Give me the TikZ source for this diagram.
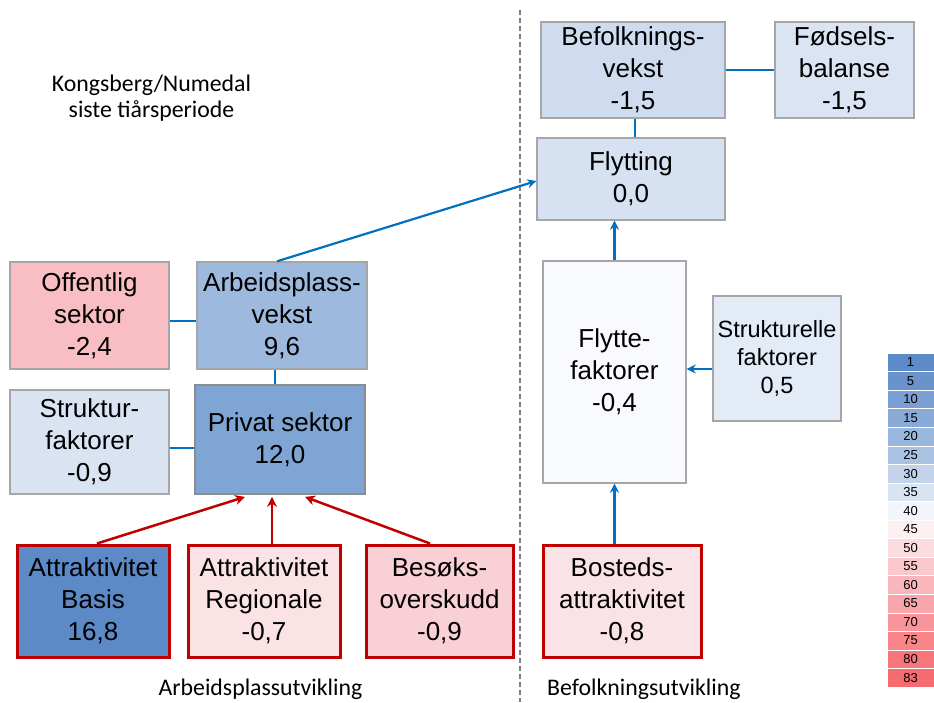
\documentclass[tikz,border=0pt]{standalone}
\usepackage{fontspec}
\setmainfont{Liberation Sans}
\newfontfamily\calfont{Carlito}
\usetikzlibrary{arrows.meta,calc}
\definecolor{bblue}{HTML}{0070C0}
\definecolor{rred}{HTML}{C00000}
\definecolor{bgray}{HTML}{A6A6A6}
\definecolor{dgray}{HTML}{8C8C8C}
\definecolor{dash}{HTML}{7F7F7F}
\definecolor{cbef}{HTML}{CFDCEF}
\definecolor{cfod}{HTML}{DBE4F2}
\definecolor{cfly}{HTML}{D6E1F1}
\definecolor{cflyf}{HTML}{F9FAFD}
\definecolor{cstruk}{HTML}{E3EBF6}
\definecolor{cbos}{HTML}{FAE3E6}
\definecolor{coff}{HTML}{F9BEC4}
\definecolor{carb}{HTML}{9DB9DE}
\definecolor{cpriv}{HTML}{7FA5D4}
\definecolor{cstrf}{HTML}{D9E3F1}
\definecolor{cbasis}{HTML}{5B8AC6}
\definecolor{creg}{HTML}{FAE2E5}
\definecolor{cbesok}{HTML}{F8D0D5}
\tikzset{
  box/.style={draw=bgray,line width=1.4pt,inner sep=0pt,align=center,font=\fontsize{26}{32}\selectfont},
  rbox/.style={box,draw=rred,line width=3pt},
  bline/.style={draw=bblue,line width=2.2pt},
  barrow/.style={bline,-{Stealth[length=9pt,width=9pt]}},
  rarrow/.style={draw=rred,line width=2.5pt,-{Stealth[length=10pt,width=10pt]}},
  lbl/.style={font=\calfont\fontsize{23.8}{26}\selectfont,inner sep=0pt},
  leg/.style={minimum width=47pt,minimum height=18.55pt,inner sep=0pt,font=\fontsize{13}{13}\selectfont,draw=white,line width=0.4pt}
}
\begin{document}
\begin{tikzpicture}[x=1pt,y=-1pt]
\useasboundingbox (0,0) rectangle (934,702);
% dashed divider
\draw[draw=dash,line width=2.8pt,dash pattern=on 5pt off 3pt] (520,10) -- (520,702);
% right side
\node[box,fill=cbef,minimum width=184pt,minimum height=96pt] (bef) at (633,70) {Befolknings-\\vekst\\-1,5};
\node[box,fill=cfod,minimum width=139pt,minimum height=96pt] (fod) at (844.5,70) {Fødsels-\\balanse\\-1,5};
\node[box,fill=cfly,minimum width=188pt,minimum height=82pt] (fly) at (631,179) {Flytting\\0,0};
\node[box,fill=cflyf,minimum width=143pt,minimum height=222pt] (flyf) at (614.5,372) {Flytte-\\faktorer\\-0,4};
\node[box,fill=cstruk,minimum width=128pt,minimum height=125pt,font=\fontsize{23.5}{28}\selectfont] (struk) at (777,358.5) {Strukturelle\\faktorer\\0,5};
\node[rbox,fill=cbos,minimum width=158pt,minimum height=112pt] (bos) at (622,601) {Bosteds-\\attraktivitet\\-0,8};
% left side
\node[box,fill=coff,minimum width=159pt,minimum height=107pt] (off) at (89.5,315.5) {Offentlig\\sektor\\-2,4};
\node[box,fill=carb,minimum width=170pt,minimum height=107pt] (arb) at (282,315.5) {Arbeidsplass-\\vekst\\9,6};
\node[box,draw=dgray,line width=1.8pt,fill=cpriv,minimum width=170pt,minimum height=109pt] (priv) at (280,439.5) {Privat sektor\\12,0};
\node[box,fill=cstrf,minimum width=159pt,minimum height=104pt] (strf) at (89.5,442) {Struktur-\\faktorer\\-0,9};
\node[rbox,fill=cbasis,minimum width=152pt,minimum height=112pt] (basis) at (93,601) {Attraktivitet\\Basis\\16,8};
\node[rbox,fill=creg,minimum width=152pt,minimum height=112pt] (reg) at (264,601) {Attraktivitet\\Regionale\\-0,7};
\node[rbox,fill=cbesok,minimum width=147pt,minimum height=112pt] (besok) at (439.5,601) {Besøks-\\overskudd\\-0,9};
% connectors right
\draw[bline] (bef.east) -- (fod.west);
\draw[bline] ([xshift=2pt]bef.south) -- ([xshift=2pt]bef.south |- fly.north);
\draw[barrow] (flyf.north) -- (flyf.north |- fly.south);
\draw[barrow] (bos.north -| flyf.south) -- (flyf.south);
\draw[barrow] ([yshift=-10.5pt]struk.west) -- ([yshift=-10.5pt]struk.west -| flyf.east);
\draw[barrow] ([xshift=-5pt]arb.north) -- ([yshift=-2pt]fly.west);
% connectors left
\draw[bline] ([yshift=-5.5pt]off.east) -- ([yshift=-5.5pt]arb.west);
\draw[bline] ([xshift=-7pt]arb.south) -- ([xshift=-5pt]priv.north);
\draw[bline] ([yshift=-6pt]strf.east) -- ([yshift=-6pt]strf.east -| priv.west);
\draw[rarrow] ([xshift=4pt]basis.north) -- ([xshift=-35pt,yshift=-2pt]priv.south);
\draw[rarrow] ([xshift=8pt]reg.north) -- ([xshift=-8pt,yshift=-2pt]priv.south);
\draw[rarrow] ([xshift=-9.5pt]besok.north) -- ([xshift=25pt,yshift=-2pt]priv.south);
% labels
\node[lbl,anchor=base] (t1) at (151.5,91) {Kongsberg/Numedal};
\node[lbl,anchor=base] (t2) at (151.5,117) {siste tiårsperiode};
\node[lbl,anchor=base] (t3) at (260.5,695) {Arbeidsplassutvikling};
\node[lbl,anchor=base west] (t4) at (547,695) {Befolkningsutvikling};
% legend
\foreach \v/\c [count=\i from 0] in {1/5D8AC8,5/6A93CC,10/7A9FD2,15/89AAD7,20/9AB7DD,25/AAC3E3,30/C2D3EB,35/D9E4F2,40/F2F5FB,45/FDF0F2,50/FBDCDF,55/FAC8CC,60/F9B7BC,65/F8A6AB,70/F8959A,75/F7858A,80/F7767B,83/F66B70}{
  \definecolor{legc}{HTML}{\c}
  \node[leg,fill=legc] (lg\i) at (910.5,{362.3+18.55*\i}) {\v};
}
\end{tikzpicture}
\end{document}
